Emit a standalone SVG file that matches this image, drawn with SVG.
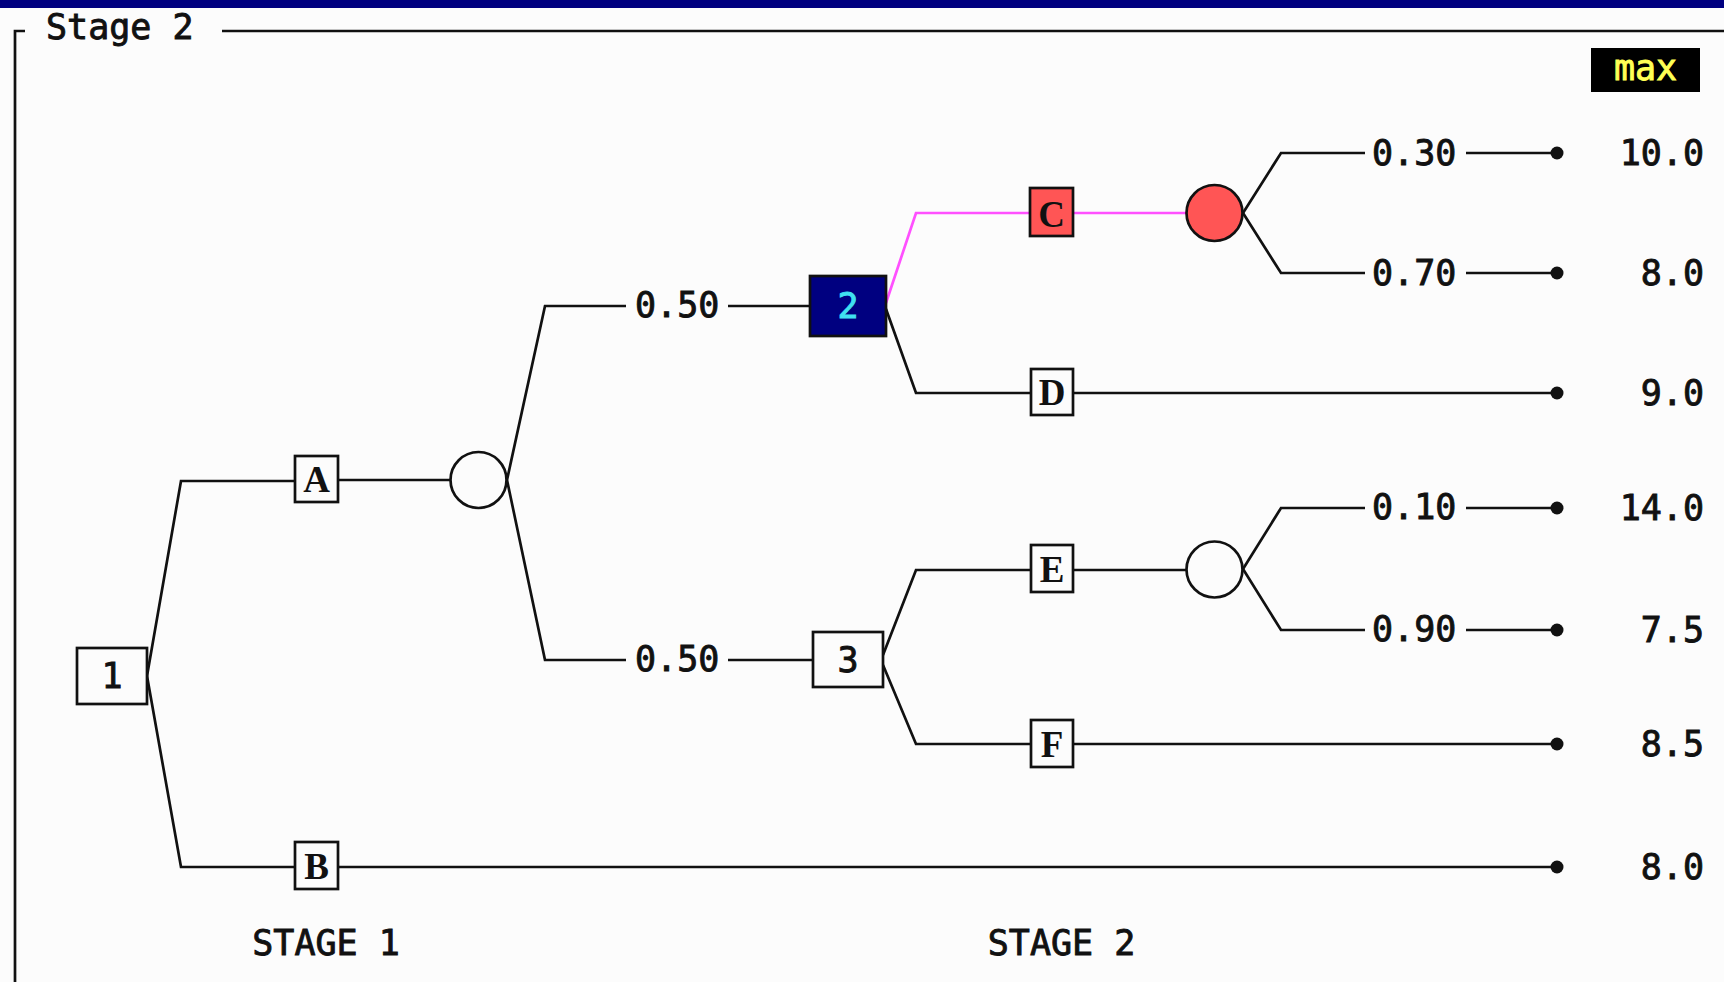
<svg xmlns="http://www.w3.org/2000/svg" width="1724" height="982" viewBox="0 0 1724 982">
<style>
.ln{stroke:#111;stroke-width:2.7;fill:none}
.mg{stroke:#ff50ff;stroke-width:2.7;fill:none}
.box{stroke:#111;stroke-width:2.7;fill:#fcfcfc}
.mono{font-family:"DejaVu Sans Mono","Liberation Mono",monospace;font-size:35px;fill:#111;stroke:#111;stroke-width:0.9}
.let{font-family:"Liberation Serif","DejaVu Serif",serif;font-weight:bold;font-size:37px;fill:#111;text-anchor:middle}
.num{text-anchor:middle}
.val{text-anchor:end}
.dot{fill:#111}
</style>
<rect x="0" y="0" width="1724" height="982" fill="#fcfcfc"/>
<rect x="0" y="0" width="1724" height="8" fill="#000080"/>
<g id="frame">
<path class="ln" d="M15,982 V31 H25 M222,31 H1724"/>
<text class="mono" x="46" y="39">Stage 2</text>
</g>
<g id="maxlabel">
<rect x="1591" y="48" width="109" height="44" fill="#000"/>
<text class="mono num" x="1645.5" y="80" style="fill:#ffff55;stroke:#ffff55">max</text>
</g>
<g id="connectors">
<polyline class="ln" points="147,676 181,481 295,481"/>
<polyline class="ln" points="147,676 181,867 295,867"/>
<line class="ln" x1="338" y1="480" x2="450" y2="480"/>
<polyline class="ln" points="507,480 545,306 626,306"/>
<line class="ln" x1="728" y1="306" x2="810" y2="306"/>
<polyline class="ln" points="507,480 545,660 626,660"/>
<line class="ln" x1="728" y1="660" x2="813" y2="660"/>
<polyline class="mg" points="886,303 916,213 1030,213"/>
<line class="mg" x1="1073" y1="213" x2="1186" y2="213"/>
<polyline class="ln" points="886,309 916,393 1031,393"/>
<line class="ln" x1="1073" y1="393" x2="1557" y2="393"/>
<polyline class="ln" points="1243,213 1281,153 1365,153"/>
<line class="ln" x1="1466" y1="153" x2="1557" y2="153"/>
<polyline class="ln" points="1243,213 1281,273 1365,273"/>
<line class="ln" x1="1466" y1="273" x2="1557" y2="273"/>
<polyline class="ln" points="883,655 916,570 1031,570"/>
<line class="ln" x1="1073" y1="570" x2="1186" y2="570"/>
<polyline class="ln" points="883,665 916,744 1031,744"/>
<line class="ln" x1="1073" y1="744" x2="1557" y2="744"/>
<polyline class="ln" points="1243,569 1281,508 1365,508"/>
<line class="ln" x1="1466" y1="508" x2="1557" y2="508"/>
<polyline class="ln" points="1243,569 1281,630 1365,630"/>
<line class="ln" x1="1466" y1="630" x2="1557" y2="630"/>
<line class="ln" x1="338" y1="867" x2="1557" y2="867"/>
<text class="mono" x="635" y="317">0.50</text>
<text class="mono" x="635" y="671">0.50</text>
<text class="mono" x="1372" y="165">0.30</text>
<text class="mono" x="1372" y="285">0.70</text>
<text class="mono" x="1372" y="519">0.10</text>
<text class="mono" x="1372" y="641">0.90</text>
</g>
<g id="node1"><rect class="box" x="77" y="648" width="70" height="56"/><text class="mono num" x="112" y="688">1</text></g>
<g id="nodeA"><rect class="box" x="295" y="456" width="43" height="46"/><text class="let" x="316.5" y="492">A</text></g>
<g id="nodeB"><rect class="box" x="295" y="842" width="43" height="47"/><text class="let" x="316.5" y="879">B</text></g>
<g id="chance1"><circle class="box" cx="478.5" cy="480" r="28"/></g>
<g id="node2"><rect x="810" y="276" width="76" height="60" fill="#000080" stroke="#111" stroke-width="2.7"/><text class="mono num" x="848" y="318" style="fill:#40e0f0;stroke:#40e0f0">2</text></g>
<g id="node3"><rect class="box" x="813" y="632" width="70" height="55"/><text class="mono num" x="848" y="672">3</text></g>
<g id="nodeC"><rect x="1030" y="188" width="43" height="48" fill="#ff5555" stroke="#111" stroke-width="2.7"/><text class="let" x="1051.5" y="227">C</text></g>
<g id="nodeD"><rect class="box" x="1031" y="369" width="42" height="46"/><text class="let" x="1052" y="405">D</text></g>
<g id="nodeE"><rect class="box" x="1031" y="545" width="42" height="47"/><text class="let" x="1052" y="582">E</text></g>
<g id="nodeF"><rect class="box" x="1031" y="720" width="42" height="47"/><text class="let" x="1052" y="757">F</text></g>
<g id="chanceC"><circle cx="1214.5" cy="213" r="28" fill="#ff5555" stroke="#111" stroke-width="2.7"/></g>
<g id="chanceE"><circle class="box" cx="1214.5" cy="569.5" r="28"/></g>
<g id="end1"><circle class="dot" cx="1557" cy="153" r="6.5"/><text class="mono val" x="1704" y="165">10.0</text></g>
<g id="end2"><circle class="dot" cx="1557" cy="273" r="6.5"/><text class="mono val" x="1704" y="285">8.0</text></g>
<g id="end3"><circle class="dot" cx="1557" cy="393" r="6.5"/><text class="mono val" x="1704" y="405">9.0</text></g>
<g id="end4"><circle class="dot" cx="1557" cy="508" r="6.5"/><text class="mono val" x="1704" y="520">14.0</text></g>
<g id="end5"><circle class="dot" cx="1557" cy="630" r="6.5"/><text class="mono val" x="1704" y="642">7.5</text></g>
<g id="end6"><circle class="dot" cx="1557" cy="744" r="6.5"/><text class="mono val" x="1704" y="756">8.5</text></g>
<g id="end7"><circle class="dot" cx="1557" cy="867" r="6.5"/><text class="mono val" x="1704" y="879">8.0</text></g>
<g id="stages">
<text class="mono num" x="326" y="955">STAGE 1</text>
<text class="mono num" x="1061.5" y="955">STAGE 2</text>
</g>
</svg>
